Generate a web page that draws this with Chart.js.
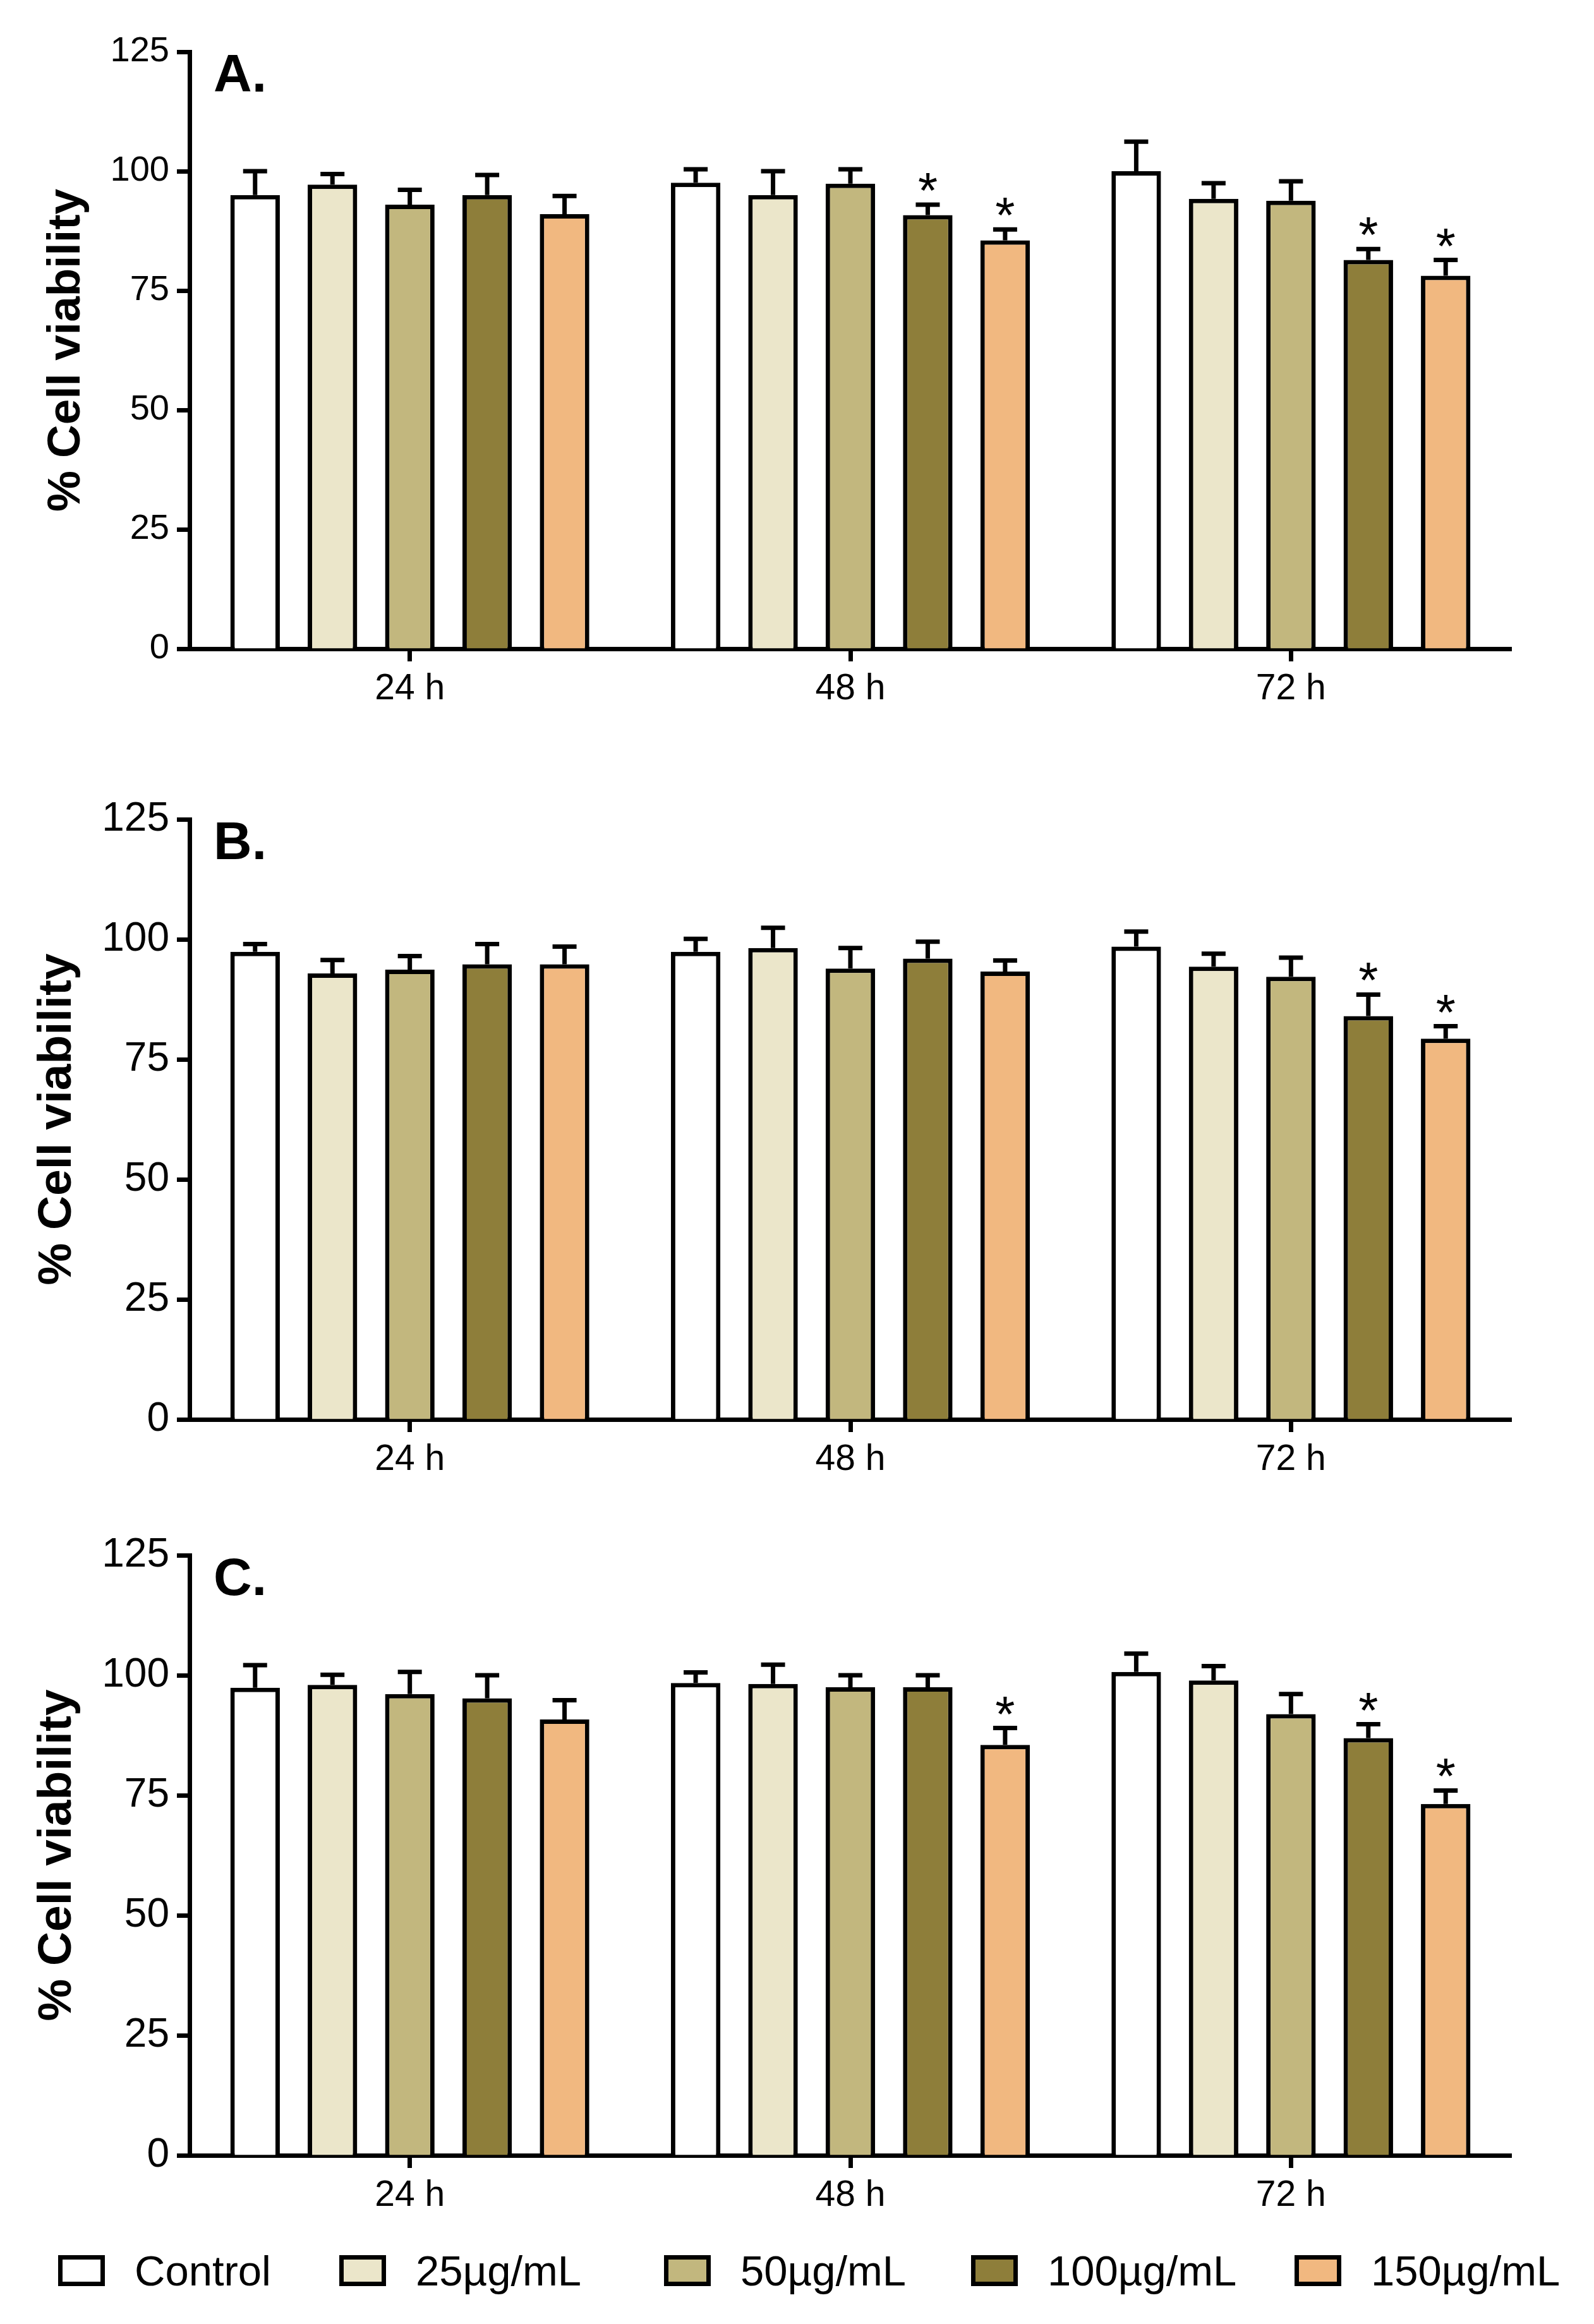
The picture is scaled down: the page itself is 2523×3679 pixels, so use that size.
<!DOCTYPE html>
<html>
<head>
<meta charset="utf-8">
<script src="https://cdn.jsdelivr.net/npm/chart.js@4.4.1/dist/chart.umd.min.js"></script>
<style>
  body { margin: 0; background: #fff; width: 2523px; height: 3679px; position: relative; overflow: hidden;
         font-family: "Liberation Sans", Arial, sans-serif; }
  canvas { position: absolute; left: 0; }
  .legend { position: absolute; top: 3570px; left: 0; width: 2523px; height: 50px; }
  .item { position: absolute; top: 0; height: 49px; display: flex; align-items: center; font-size: 67px; color: #000; white-space: nowrap; }
  .box { width: 60px; height: 35px; border: 7px solid #000; margin-right: 47px; flex: none; }
</style>
</head>
<body>
<canvas id="chartA" width="2523" height="1160" style="top:0px"></canvas>
<canvas id="chartB" width="2523" height="1160" style="top:1200px"></canvas>
<canvas id="chartC" width="2523" height="1120" style="top:2380px"></canvas>
<div class="legend" id="legend"></div>

<script>
// DATA
const times = ["24 h", "48 h", "72 h"];
const doses = ["Control", "25µg/mL", "50µg/mL", "100µg/mL", "150µg/mL"];
const yTicks = [0, 25, 50, 75, 100, 125];

// mean % viability, one row per time, one value per dose
const aMean = [[95.0, 97.2, 93.0, 95.0, 91.0], [97.6, 95.0, 97.4, 90.8, 85.5], [100.0, 94.2, 93.8, 81.4, 78.1]];
const aErr  = [[5.0, 2.2, 3.1, 4.2, 3.8], [2.8, 5.0, 3.0, 2.2, 2.3], [6.2, 3.3, 4.1, 2.3, 3.3]];
const aStar = [[0, 0, 0, 0, 0], [0, 0, 0, 1, 1], [0, 0, 0, 1, 1]];

const bMean = [[97.4, 92.9, 93.7, 94.8, 94.8], [97.4, 98.2, 93.9, 96.0, 93.3], [98.5, 94.3, 92.2, 84.0, 79.3]];
const bErr  = [[1.6, 2.8, 2.8, 4.2, 3.7], [2.7, 4.2, 4.3, 3.5, 2.3], [3.1, 2.7, 4.0, 4.5, 2.6]];
const bStar = [[0, 0, 0, 0, 0], [0, 0, 0, 0, 0], [0, 0, 0, 1, 1]];

const cMean = [[97.4, 98.0, 96.1, 95.2, 90.8], [98.4, 98.2, 97.5, 97.5, 85.5], [100.7, 98.9, 91.9, 86.9, 73.2]];
const cErr  = [[4.7, 2.1, 4.6, 4.8, 4.0], [2.2, 4.0, 2.5, 2.5, 3.5], [3.8, 3.0, 4.2, 2.9, 2.8]];
const cStar = [[0, 0, 0, 0, 0], [0, 0, 0, 0, 1], [0, 0, 0, 1, 1]];

// STYLE
const doseColors = ["#ffffff", "#ebe6ca", "#c2b77e", "#8e7e3a", "#f1b880"];
const FONT = "'Liberation Sans', Arial, sans-serif";
const LW = 7;

// error bars + asterisks + panel letter
const extrasPlugin = {
  id: "extras",
  afterDatasetsDraw(chart) {
    const { ctx, scales: { y }, chartArea } = chart;
    const ex = chart.options.plugins.extras;
    ctx.save();
    ctx.strokeStyle = "#000";
    ctx.fillStyle = "#000";
    ctx.lineWidth = LW;
    ctx.lineCap = "butt";
    chart.data.datasets.forEach((ds, d) => {
      chart.getDatasetMeta(d).data.forEach((bar, t) => {
        const top = y.getPixelForValue(ds.data[t] + ex.err[t][d]);
        ctx.beginPath();
        ctx.moveTo(bar.x, bar.y);
        ctx.lineTo(bar.x, top);
        ctx.moveTo(bar.x - 19, top);
        ctx.lineTo(bar.x + 19, top);
        ctx.stroke();
        if (ex.star[t][d]) {
          ctx.font = "80px " + FONT;
          ctx.textAlign = "center";
          ctx.textBaseline = "alphabetic";
          ctx.fillText("*", bar.x, top + 5);
        }
      });
    });
    ctx.font = "bold 84px " + FONT;
    ctx.textAlign = "left";
    ctx.textBaseline = "alphabetic";
    ctx.fillText(ex.letter, chartArea.left + 38, chartArea.top + 63);
    ctx.restore();
  }
};

function makePanel(id, mean, err, star, letter, lay) {
  const datasets = doses.map((name, d) => ({
    label: name,
    data: mean.map(row => row[d]),
    backgroundColor: doseColors[d],
    borderColor: "#000",
    borderWidth: LW,
    categoryPercentage: 0.878,
    barPercentage: 0.64
  }));
  return new Chart(document.getElementById(id), {
    type: "bar",
    data: { labels: times, datasets },
    options: {
      responsive: false,
      animation: false,
      devicePixelRatio: 1,
      layout: { padding: { top: lay.top, right: 131, left: 0, bottom: 0 } },
      plugins: {
        legend: { display: false },
        tooltip: { enabled: false },
        extras: { err, star, letter }
      },
      scales: {
        x: {
          afterFit: s => { s.height = lay.xh; },
          grid: { display: true, drawOnChartArea: false, offset: false, tickLength: 20, tickWidth: LW, tickColor: "#000", color: "#000" },
          border: { display: true, color: "#000", width: LW },
          ticks: { color: "#000", padding: 10, font: { family: FONT, size: 57 } }
        },
        y: {
          min: 0, max: 125,
          afterFit: s => { s.width = 300; },
          afterBuildTicks: s => { s.ticks = yTicks.map(v => ({ value: v })); },
          grid: { display: true, drawOnChartArea: false, tickLength: 20, tickWidth: LW, tickColor: "#000", color: "#000" },
          border: { display: true, color: "#000", width: LW },
          ticks: { color: "#000", padding: 12, font: { family: FONT, size: lay.tickSize } },
          title: {
            display: true, text: "% Cell viability", color: "#000",
            padding: { top: lay.titlePad, bottom: 0 },
            font: { family: FONT, size: lay.titleSize, weight: "bold" }
          }
        }
      }
    },
    plugins: [extrasPlugin]
  });
}

makePanel("chartA", aMean, aErr, aStar, "A.", { top: 82, xh: 133, tickSize: 56, titleSize: 73, titlePad: 62 });
makePanel("chartB", bMean, bErr, bStar, "B.", { top: 97, xh: 113, tickSize: 64, titleSize: 75, titlePad: 46 });
makePanel("chartC", cMean, cErr, cStar, "C.", { top: 82, xh: 88, tickSize: 64, titleSize: 75, titlePad: 46 });

// LEGEND
const legendLeft = [92, 537, 1051, 1537, 2049];
const legend = document.getElementById("legend");
doses.forEach((name, d) => {
  const item = document.createElement("div");
  item.className = "item";
  item.style.left = legendLeft[d] + "px";
  item.innerHTML = `<span class="box" style="background:${doseColors[d]}"></span><span>${name}</span>`;
  legend.appendChild(item);
});
</script>
</body>
</html>
